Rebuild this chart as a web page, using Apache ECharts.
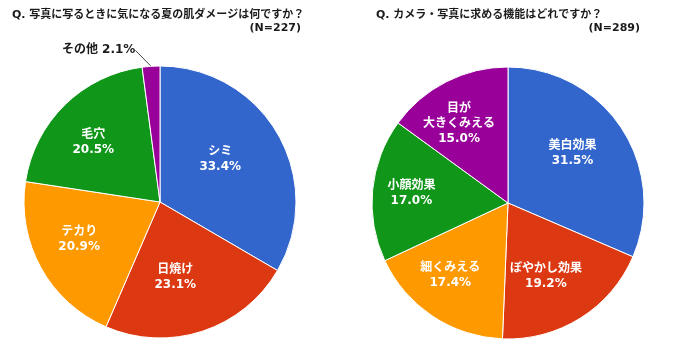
<!DOCTYPE html>
<html><head><meta charset="utf-8">
<script src="https://cdn.jsdelivr.net/npm/echarts@6/dist/echarts.min.js"></script>
<style>html,body{margin:0;padding:0;background:#fff}#c{width:676px;height:358px}</style>
</head><body><div id="c"></div>
<script>
const leftTitle = 'Q. 写真に写るときに気になる夏の肌ダメージは何ですか？';
const leftN = '(N=227)';
const leftCategories = ['シミ', '日焼け', 'テカり', '毛穴', 'その他'];
const leftValues = [33.4, 23.1, 20.9, 20.5, 2.1];

const rightTitle = 'Q. カメラ・写真に求める機能はどれですか？';
const rightN = '(N=289)';
const rightCategories = ['美白効果', 'ぼやかし効果', '細くみえる', '小顔効果', '目が\n大きくみえる'];
const rightValues = [31.5, 19.2, 17.4, 17.0, 15.0];

const colors = ['#3366CC', '#DC3912', '#FF9900', '#109618', '#990099'];
const FONT = "'DejaVu Sans', 'Noto Sans CJK JP', sans-serif";

const chart = echarts.init(document.getElementById('c'), null, { renderer: 'canvas' });

function makeLayout(cx, cy, R, ox, oy, Rout) {
  return function (p) {
    const r = p.labelRect;
    const lx = r.x + r.width / 2, ly = r.y + r.height / 2;
    const dx = lx - cx, dy = ly - cy;
    const d = Math.hypot(dx, dy);
    if (d > Rout * 0.9) {
      return { x: r.x + r.width - 10, y: ly - 6, align: 'right', verticalAlign: 'middle' };
    }
    return { x: cx + ox + dx / d * R, y: cy + oy + dy / d * R, align: 'center', verticalAlign: 'middle' };
  };
}

function insideFmt(p) { return p.name + '\n' + p.value.toFixed(1) + '%'; }

function buildData(cats, vals, outsideName) {
  return cats.map((n, i) => {
    const item = { name: n, value: vals[i] };
    if (n === outsideName) {
      item.label = {
        position: 'outside', color: '#1a1a1a',
        formatter: p => p.name + ' ' + p.value.toFixed(1) + '%'
      };
      item.labelLine = { show: true, length: 10, length2: 0, lineStyle: { color: '#444', width: 1 } };
    }
    return item;
  });
}

function pieSeries(center, cats, vals, outsideName, R, ox, oy) {
  return {
    type: 'pie',
    center: center,
    radius: 136,
    startAngle: 90,
    clockwise: true,
    avoidLabelOverlap: false,
    silent: true,
    itemStyle: { borderColor: '#fff', borderWidth: 1 },
    label: {
      show: true, position: 'inside', color: '#fff', fontWeight: 'bold',
      fontSize: 12, lineHeight: 15, fontFamily: FONT, formatter: insideFmt
    },
    labelLine: { show: false },
    emphasis: { disabled: true },
    labelLayout: makeLayout(center[0], center[1], R, ox, oy, 136),
    data: buildData(cats, vals, outsideName)
  };
}

const tStyle = { fontSize: 11, fontWeight: 'bold', color: '#1a1a1a', fontFamily: FONT, lineHeight: 16 };

chart.setOption({
  animation: false,
  color: colors,
  title: [
    { text: leftTitle, left: 12, top: 7, padding: 0, textStyle: tStyle },
    { text: leftN, right: 375, top: 20, padding: 0, textStyle: tStyle },
    { text: rightTitle, left: 376, top: 7, padding: 0, textStyle: tStyle },
    { text: rightN, right: 36, top: 20, padding: 0, textStyle: tStyle }
  ],
  series: [
    pieSeries([160, 202], leftCategories, leftValues, 'その他', 81, -10, -2),
    pieSeries([508, 203], rightCategories, rightValues, null, 88, -9, -1)
  ]
});
</script>
</body></html>
